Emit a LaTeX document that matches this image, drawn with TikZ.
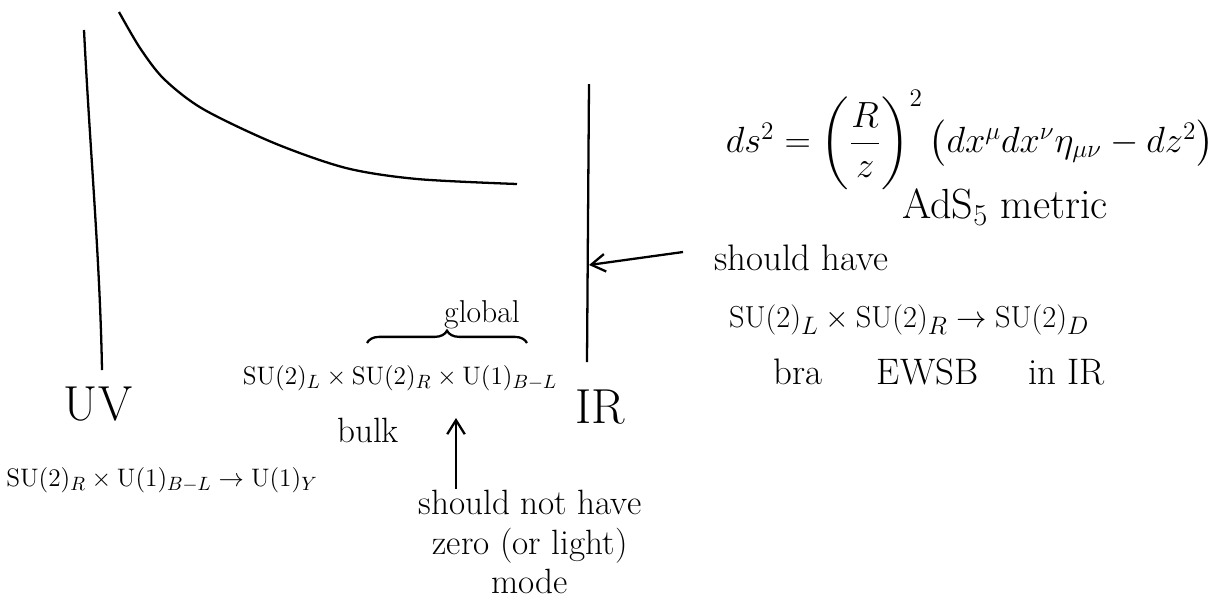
\documentclass[tikz,border=0pt]{standalone}
\usepackage{amsmath,amssymb}
\usepackage{tikz}
\usetikzlibrary{arrows.meta,decorations.pathreplacing,positioning}

\begin{document}
\begin{tikzpicture}[x=0.02cm,y=-0.02cm,>={Straight Barb[length=8pt,width=10pt]},line width=1.3pt]
  \tikzset{
    txt/.style={font=\fontsize{20}{22.5}\selectfont,inner sep=0pt},
    grptxt/.style={font=\fontsize{15.5}{19}\selectfont,inner sep=0pt},
    big/.style={font=\fontsize{28}{32}\selectfont,inner sep=0pt},
    eq/.style={font=\fontsize{22}{26}\selectfont,inner sep=0pt}
  }
  \useasboundingbox (0,0) rectangle (1228,600);
  % the two branes and the warp factor
  \coordinate (uvtop) at (84,30);
  \coordinate (uvbot) at (102,370);
  \coordinate (irtop) at (589,84);
  \coordinate (irbot) at (587,362);
  \draw (uvtop) .. controls (90,150) and (100,260) .. (uvbot);
  \draw (irtop) -- (irbot);
  \draw plot[smooth] coordinates {(119,12) (140,48) (164,79) (203,109) (274,143) (346,168) (417,179) (517,184)};
  \node[big] (uv) at (98,404) {UV};
  \node[big] (ir) at (600,407) {IR};
  % bulk
  \node[grptxt] (grp) at (400,378) {$\mathrm{SU}(2)_L\times\mathrm{SU}(2)_R\times\mathrm{U}(1)_{B-L}$};
  \node[txt,font=\fontsize{18}{22}\selectfont] (glob) at (482,315) {global};
  \coordinate (brL) at (367,343);
  \coordinate (brR) at (527,343);
  \draw[decorate,decoration={brace,amplitude=7pt}] (brL) -- (brR);
  \node[txt] (bulk) at (368,430) {bulk};
  \node[txt,align=center] (zm) at (530,542) {should not have\\zero (or light)\\mode};
  \coordinate (zmtip) at (456,418);
  \draw[->] (zm.north -| zmtip) -- (zmtip);
  \node[grptxt] (uvbrk) at (162,480) {$\mathrm{SU}(2)_R\times\mathrm{U}(1)_{B-L}\to\mathrm{U}(1)_Y$};
  % metric and IR brane
  \node[eq] (met) at (970,140) {$ds^2=\left(\dfrac{R}{z}\right)^2\left(dx^\mu dx^\nu\eta_{\mu\nu}-dz^2\right)$};
  \node[eq,font=\fontsize{24}{28}\selectfont] (ads) at (1005,207) {AdS$_5$ metric};
  \node[txt,font=\fontsize{21}{25}\selectfont,anchor=west] (sh) at (713,258) {should have};
  \coordinate (shtail) at (683,252);
  \coordinate (irhit) at (589,265);
  \draw[->] (shtail) -- (irhit);
  \node[txt,font=\fontsize{19}{23}\selectfont,anchor=west] (irbrk) at (728,320) {$\mathrm{SU}(2)_L\times\mathrm{SU}(2)_R\to\mathrm{SU}(2)_D$};
  \node[txt,font=\fontsize{21}{25}\selectfont,anchor=west] (ewsb) at (772,372) {bra\hspace{1.1cm}EWSB\hspace{1.0cm}in IR};
\end{tikzpicture}
\end{document}
